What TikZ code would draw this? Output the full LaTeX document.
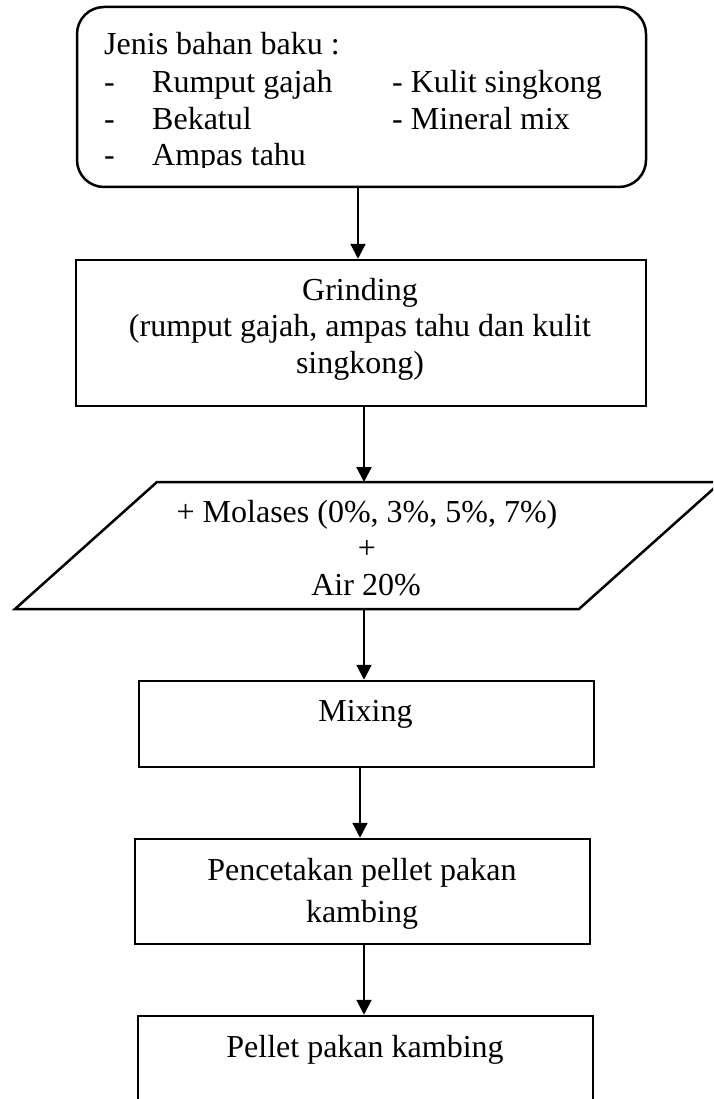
\documentclass[tikz,border=0pt]{standalone}
\usepackage{fontspec}
\setmainfont{Liberation Serif}
\usetikzlibrary{arrows.meta}
\begin{document}
\begin{tikzpicture}[x=1pt,y=-1pt,
  box/.style={draw, line width=2.5pt, inner sep=0pt},
  txt/.style={inner sep=0pt, font=\fontsize{32}{37}\selectfont},
  arr/.style={line width=2.2pt, -{Triangle[width=15pt,length=15pt]}}]
\useasboundingbox (0,0) rectangle (713,1099);
\clip (0,0) rectangle (713,1099);
% raw materials box
\node[box, rounded corners=27pt, minimum width=569pt, minimum height=180pt] (raw) at (361.5,97) {};
\node[txt, anchor=base west] (t0) at (104,55) {Jenis bahan baku :};
\node[txt, anchor=base west] (d1) at (104,93) {-};
\node[txt, anchor=base west] (r1) at (152,93) {Rumput gajah};
\node[txt, anchor=base west] (k1) at (392,93) {- Kulit singkong};
\node[txt, anchor=base west] (d2) at (104,129.5) {-};
\node[txt, anchor=base west] (r2) at (152,129.5) {Bekatul};
\node[txt, anchor=base west] (k2) at (392,129.5) {- Mineral mix};
\begin{scope}
\clip (77,7) rectangle (646,168);
\node[txt, anchor=base west] (d3) at (104,166) {-};
\node[txt, anchor=base west] (r3) at (152,166) {Ampas tahu};
\end{scope}
% grinding
\node[box, minimum width=570pt, minimum height=146pt] (grind) at (361,333) {};
\node[txt, anchor=base] (g1) at (360,300) {Grinding};
\node[txt, anchor=base] (g2) at (360,336.5) {(rumput gajah, ampas tahu dan kulit};
\node[txt, anchor=base] (g3) at (360,373) {singkong)};
% parallelogram
\draw[line width=2.5pt, line join=miter] (157,482) coordinate (pa) -- (721,482) coordinate (pb)
  -- (579,609) coordinate (pc) -- (15,609) coordinate (pd) -- cycle;
\coordinate (ptop) at (364,482);
\coordinate (pbot) at (364,609);
\node[txt, anchor=base] (m1) at (367,522) {+ Molases (0\%, 3\%, 5\%, 7\%)};
\node[txt, anchor=base] (m2) at (367,558.5) {+};
\node[txt, anchor=base] (m3) at (366,595) {Air 20\%};
% mixing
\node[box, minimum width=455pt, minimum height=86pt] (mix) at (366.5,724) {};
\node[txt, anchor=base] (mt) at (365.5,721) {Mixing};
% pencetakan
\node[box, minimum width=455pt, minimum height=105pt] (pen) at (362.5,891.5) {};
\node[txt, anchor=base] (p1) at (362,880) {Pencetakan pellet pakan};
\node[txt, anchor=base] (p2) at (362,922) {kambing};
% pellet
\node[box, minimum width=455pt, minimum height=104pt] (pel) at (365.5,1068) {};
\node[txt, anchor=base] (pt) at (365,1057) {Pellet pakan kambing};
% arrows
\draw[arr] ([xshift=-3.5pt]raw.south) -- ([xshift=-3.5pt]raw.south |- grind.north);
\draw[arr] ([xshift=3pt]grind.south) -- (ptop);
\draw[arr] (pbot) -- (pbot |- mix.north);
\draw[arr] ([xshift=-6.5pt]mix.south) -- ([xshift=-6.5pt]mix.south |- pen.north);
\draw[arr] ([xshift=1.5pt]pen.south) -- ([xshift=1.5pt]pen.south |- pel.north);
\end{tikzpicture}
\end{document}
